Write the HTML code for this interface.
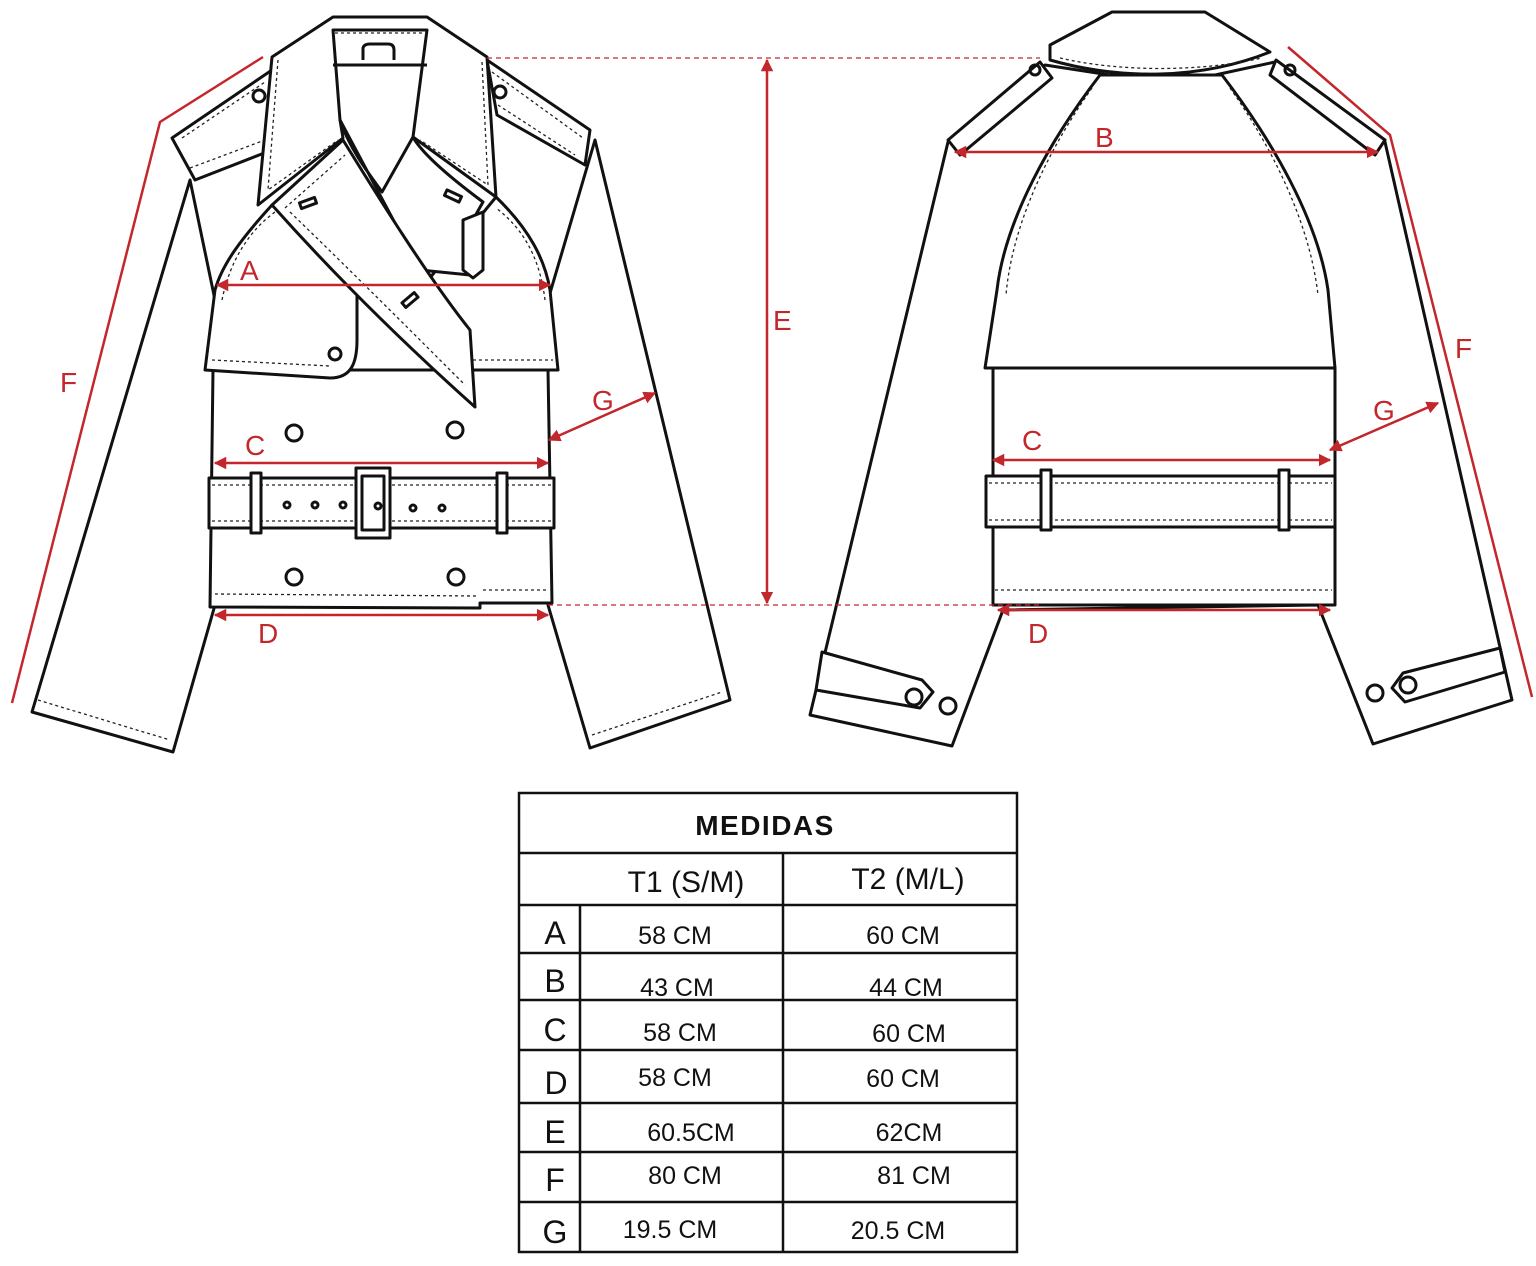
<!DOCTYPE html>
<html><head><meta charset="utf-8"><style>
html,body{margin:0;padding:0;background:#fff}
svg{display:block}
.k{fill:#fff;stroke:#111;stroke-width:3;stroke-linejoin:round}
.kn{fill:none;stroke:#111;stroke-width:3;stroke-linejoin:round}
.d{fill:none;stroke:#222;stroke-width:1.3;stroke-dasharray:3 3}
.r{fill:none;stroke:#c3262b;stroke-width:2.5}
.rd{fill:none;stroke:#c3262b;stroke-width:1.3;stroke-dasharray:5 4}
.lbl{font-family:"Liberation Sans",sans-serif;font-size:28px;fill:#c3262b}
.t{font-family:"Liberation Sans",sans-serif;fill:#111}
</style></head><body>
<svg width="1536" height="1266" viewBox="0 0 1536 1266" xmlns="http://www.w3.org/2000/svg">
<defs>
<marker id="a" viewBox="0 0 10 10" refX="9" refY="5" markerWidth="5" markerHeight="5" orient="auto-start-reverse"><path d="M0,0 L10,5 L0,10 z" fill="#c3262b"/></marker>
</defs>

<!-- FRONT -->
<path class="k" d="M190,180 L32,712 L173,752 L215,605 L215,300 Z"/>
<path class="d" d="M38,700 L170,740"/>
<path class="k" d="M595,140 L730,700 L590,748 L548,605 L548,300 Z"/>
<path class="d" d="M592,735 L722,692"/>
<path class="k" d="M213,370 L210,607 L480,608 L480,603 L552,603 L548,370 Z"/>
<path class="d" d="M215,594 L478,596"/><path class="d" d="M483,590 L548,590"/>
<path class="k" d="M272,205 C240,240 222,265 215,290 L205,370 L330,378 C350,378 357,365 357,340 L357,290 Z"/>
<path class="k" d="M496,197 C530,230 545,260 550,290 L558,370 L450,370 L420,290 Z"/>
<path class="d" d="M212,360 L330,366"/><path class="d" d="M455,360 L553,360"/>
<path class="d" d="M222,300 C230,260 250,230 275,212"/><path class="d" d="M545,300 C540,260 525,230 496,208"/>
<path class="k" d="M172,138 L272,70 L272,150 L195,180 Z"/>
<path class="d" d="M182,138 L265,82"/><path class="d" d="M190,168 L265,140"/>
<path class="k" d="M487,60 L590,130 L585,165 L497,115 Z"/>
<path class="d" d="M492,72 L583,138"/><path class="d" d="M498,105 L575,155"/>
<circle cx="259" cy="96" r="6" class="kn" stroke-width="2"/><circle cx="500" cy="92" r="6" class="kn" stroke-width="2"/>
<path class="k" d="M272,57 L333,17 L427,17 L487,57 L496,197 L413,137 L427,30 L333,30 L340,120 L343,138 L258,205 Z"/>
<path class="d" d="M335,33 L425,33"/><path class="kn" stroke-width="1.5" d="M333,65 L427,65"/>
<path class="kn" stroke-width="1.5" d="M363,60 L363,48 Q364,44 370,44 L388,44 Q394,44 394,50 L394,60"/>
<path class="d" d="M278,60 L268,190 L338,140"/><path class="d" d="M482,62 L488,185 L420,140"/>
<path class="k" d="M340,120 C350,150 370,175 382,192 L413,137 C420,150 440,170 483,202 L470,225 L470,275 L420,270 Z"/>
<path class="k" d="M272,205 L343,140 C380,200 430,280 470,330 L475,407 C400,340 330,270 272,205 Z"/>
<path class="d" d="M285,208 L345,155"/><path class="d" d="M290,212 C350,270 410,330 465,385"/>
<rect x="300" y="200" width="16" height="6" class="kn" stroke-width="1.5" transform="rotate(-20 308 203)"/>
<rect x="445" y="193" width="16" height="6" class="kn" stroke-width="1.5" transform="rotate(25 453 196)"/>
<rect x="402" y="297" width="16" height="6" class="kn" stroke-width="1.5" transform="rotate(-40 410 300)"/>
<path class="k" d="M463,220 L483,212 L483,270 L473,278 L463,270 Z" stroke-width="2"/>
<circle cx="335" cy="354" r="6" class="kn" stroke-width="2"/>
<circle cx="294" cy="433" r="8" class="kn" stroke-width="2"/><circle cx="455" cy="430" r="8" class="kn" stroke-width="2"/>
<circle cx="294" cy="577" r="8" class="kn" stroke-width="2"/><circle cx="456" cy="577" r="8" class="kn" stroke-width="2"/>
<rect x="209" y="478" width="345" height="50" class="k"/>
<path class="d" d="M212,485 L551,485 M212,521 L551,521"/>
<rect x="251" y="473" width="10" height="60" class="k" stroke-width="2"/>
<rect x="497" y="473" width="10" height="60" class="k" stroke-width="2"/>
<rect x="356" y="468" width="34" height="70" class="k"/><rect x="362" y="476" width="22" height="54" class="kn" stroke-width="2"/>
<g class="kn" stroke-width="1.3"><circle cx="287" cy="505" r="3"/><circle cx="315" cy="505" r="3"/><circle cx="343" cy="505" r="3"/><circle cx="378" cy="506" r="3"/><circle cx="413" cy="508" r="3"/><circle cx="442" cy="508" r="3"/></g>

<!-- BACK -->
<path class="k" d="M948,142 L1045,65 L1110,75 L1215,75 L1275,62 L1385,142 L1512,700 L1373,744 L1318,605 L1003,610 L952,746 L810,715 Z"/>
<path class="k" d="M1100,75 C1050,140 1005,220 997,290 L985,368 L1335,368 L1328,290 C1318,220 1272,140 1222,75 Z"/>
<path class="d" d="M1092,88 C1048,150 1012,225 1006,295 M1230,88 C1274,150 1310,225 1318,295"/>
<path class="k" d="M993,368 L993,605 L1335,605 L1335,368 Z"/>
<path class="d" d="M995,590 L1332,590"/>
<path class="k" d="M948,140 L1040,62 L1052,78 L960,155 Z"/>
<path class="k" d="M1276,60 L1385,140 L1375,155 L1270,75 Z"/>
<path class="k" d="M1050,45 L1112,12 L1205,12 L1270,52 C1200,80 1120,80 1050,60 Z"/>
<path class="d" d="M1060,58 C1120,72 1200,72 1262,58"/>
<circle cx="1035" cy="70" r="5" class="kn" stroke-width="2"/><circle cx="1290" cy="70" r="5" class="kn" stroke-width="2"/>
<rect x="986" y="476" width="349" height="51" class="k"/>
<path class="d" d="M989,483 L1332,483 M989,520 L1332,520"/>
<rect x="1041" y="470" width="10" height="60" class="k" stroke-width="2"/>
<rect x="1279" y="470" width="10" height="60" class="k" stroke-width="2"/>
<path class="k" d="M822,652 L922,680 L933,692 L920,708 L816,690 Z" stroke-width="2.5"/>
<path class="k" d="M1500,648 L1505,672 L1405,702 L1392,688 L1403,673 Z" stroke-width="2.5"/>
<circle cx="914" cy="697" r="8" class="kn" stroke-width="2"/><circle cx="948" cy="706" r="8" class="kn" stroke-width="2"/>
<circle cx="1408" cy="685" r="8" class="kn" stroke-width="2"/><circle cx="1375" cy="693" r="8" class="kn" stroke-width="2"/>

<!-- RED measures -->
<path class="r" d="M263,57 L160,122 L12,703"/>
<path class="r" d="M1288,47 L1390,135 L1532,697"/>
<path class="rd" d="M487,58 L1040,58 M548,605 L1040,605"/>
<path class="r" marker-start="url(#a)" marker-end="url(#a)" d="M767,60 L767,603"/>
<path class="r" marker-start="url(#a)" marker-end="url(#a)" d="M217,285 L550,285"/>
<path class="r" marker-start="url(#a)" marker-end="url(#a)" d="M215,463 L548,463"/>
<path class="r" marker-start="url(#a)" marker-end="url(#a)" d="M215,615 L548,615"/>
<path class="r" marker-start="url(#a)" marker-end="url(#a)" d="M549,440 L655,393"/>
<path class="r" marker-start="url(#a)" marker-end="url(#a)" d="M955,152 L1378,152"/>
<path class="r" marker-start="url(#a)" marker-end="url(#a)" d="M993,460 L1330,460"/>
<path class="r" marker-start="url(#a)" marker-end="url(#a)" d="M998,610 L1330,610"/>
<path class="r" marker-start="url(#a)" marker-end="url(#a)" d="M1330,450 L1438,403"/>
<text class="lbl" x="240" y="280">A</text>
<text class="lbl" x="245" y="455">C</text>
<text class="lbl" x="258" y="643">D</text>
<text class="lbl" x="592" y="410">G</text>
<text class="lbl" x="60" y="392">F</text>
<text class="lbl" x="773" y="330">E</text>
<text class="lbl" x="1095" y="147">B</text>
<text class="lbl" x="1022" y="450">C</text>
<text class="lbl" x="1028" y="643">D</text>
<text class="lbl" x="1373" y="420">G</text>
<text class="lbl" x="1455" y="358">F</text>

<!-- TABLE -->
<g stroke="#111" stroke-width="2.5" fill="none">
<rect x="519" y="793" width="498" height="459"/>
<path d="M519,853 H1017 M519,905 H1017 M519,953 H1017 M519,1000 H1017 M519,1050 H1017 M519,1103 H1017 M519,1152 H1017 M519,1202 H1017 M783,853 V1252 M580,905 V1252"/>
</g>
<text class="t" x="765" y="835" font-size="28" font-weight="bold" text-anchor="middle" letter-spacing="1.5">MEDIDAS</text>
<text class="t" x="686" y="892" font-size="30" text-anchor="middle">T1 (S/M)</text>
<text class="t" x="908" y="889" font-size="30" text-anchor="middle">T2 (M/L)</text>
<g class="t" font-size="32" text-anchor="middle">
<text x="555" y="944">A</text><text x="555" y="992">B</text><text x="555" y="1041">C</text><text x="556" y="1094">D</text><text x="555" y="1143">E</text><text x="555" y="1191">F</text><text x="555" y="1243">G</text>
</g>
<g class="t" font-size="25" text-anchor="middle">
<text x="675" y="944">58 CM</text><text x="903" y="944">60 CM</text>
<text x="677" y="996">43  CM</text><text x="906" y="996">44  CM</text>
<text x="680" y="1041">58  CM</text><text x="909" y="1042">60  CM</text>
<text x="675" y="1086">58 CM</text><text x="903" y="1087">60 CM</text>
<text x="691" y="1141">60.5CM</text><text x="909" y="1141">62CM</text>
<text x="685" y="1184">80 CM</text><text x="914" y="1184">81 CM</text>
<text x="670" y="1238">19.5 CM</text><text x="898" y="1239">20.5 CM</text>
</g>
</svg>
</body></html>
